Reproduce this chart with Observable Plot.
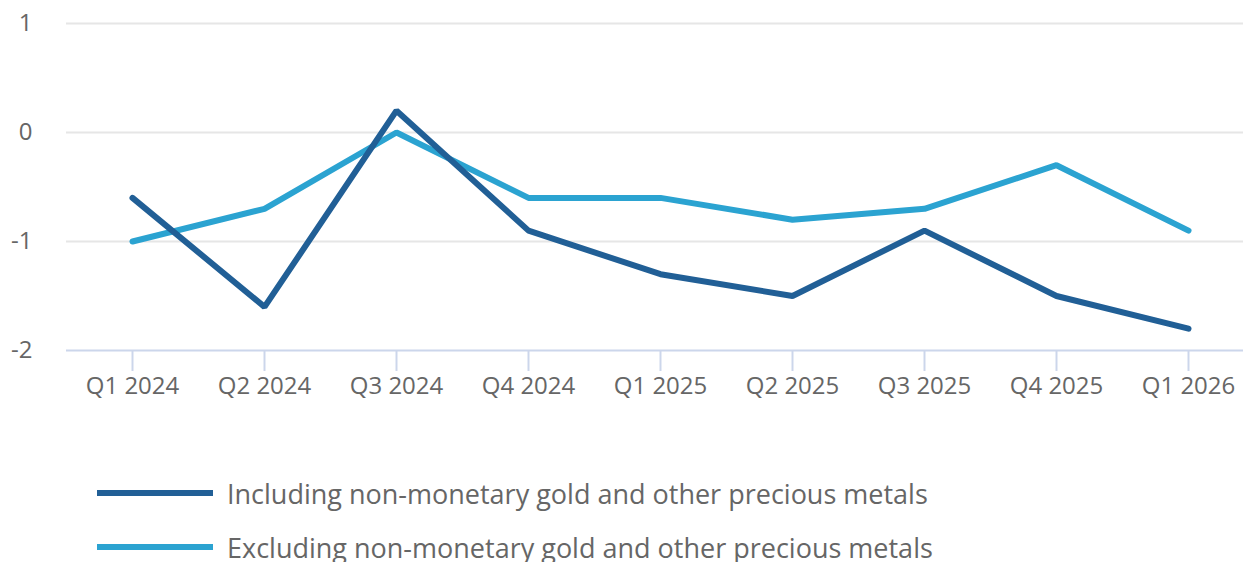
<!DOCTYPE html>
<html><head><meta charset="utf-8">
<script src="https://cdn.jsdelivr.net/npm/d3@7"></script>
<script src="https://cdn.jsdelivr.net/npm/@observablehq/plot@0.6"></script>
<style>
body{margin:0;background:#fff;font-family:"Open Sans",sans-serif;overflow:hidden;}
#legend{margin-top:36px;}
.row{display:flex;align-items:center;height:54px;padding-left:97px;color:#666;font-size:27px;}
.sw{width:116px;height:6px;margin-right:14px;}
</style></head><body>
<div id="chart"></div>
<div id="legend"></div>
<script>
const quarters = ["Q1 2024","Q2 2024","Q3 2024","Q4 2024","Q1 2025","Q2 2025","Q3 2025","Q4 2025","Q1 2026"];
const including = [-0.6,-1.6,0.2,-0.9,-1.3,-1.5,-0.9,-1.5,-1.8];
const excluding = [-1.0,-0.7,0.0,-0.6,-0.6,-0.8,-0.7,-0.3,-0.9];
const seriesNames = ["Including non-monetary gold and other precious metals","Excluding non-monetary gold and other precious metals"];
const colors = ["#215f96","#2ba3d1"];
const yTicks = [-2,-1,0,1];

const data = [];
quarters.forEach((q,i)=>{
  data.push({q, v: including[i], s: seriesNames[0]});
  data.push({q, v: excluding[i], s: seriesNames[1]});
});

const plot = Plot.plot({
  width: 1243, height: 430,
  marginLeft: 66, marginRight: 0, marginTop: 23, marginBottom: 80,
  style: {fontFamily: '"Open Sans", sans-serif', fontSize: "24px", color: "#666"},
  x: {type: "point", domain: quarters, range: [131, 1188], padding: 0, label: null},
  y: {domain: [-2, 1], label: null},
  color: {domain: seriesNames, range: colors},
  marks: [
    Plot.ruleY(yTicks.filter(t=>t>-2), {stroke: "#e6e6e6", strokeWidth: 2}),
    Plot.ruleY([-2], {stroke: "#ccd6eb", strokeWidth: 2}),
    Plot.axisY({ticks: yTicks, tickSize: 0, tickPadding: 34, fill: "#666", fontSize: 24, tickFormat: d => String(d)}),
    Plot.axisX({tickSize: 21, tickPadding: 5, stroke: "#ccd6eb", strokeWidth: 2, fill: "#666", fontSize: 24, strokeOpacity: 1}),
    Plot.line(data.filter(d=>d.s===seriesNames[1]), {x: "q", y: "v", stroke: "s", strokeWidth: 6, strokeLinejoin: "miter"}),
    Plot.line(data.filter(d=>d.s===seriesNames[0]), {x: "q", y: "v", stroke: "s", strokeWidth: 6, strokeLinejoin: "miter"})
  ]
});
document.getElementById("chart").appendChild(plot);

const leg = document.getElementById("legend");
seriesNames.forEach((n,i)=>{
  const r = document.createElement("div"); r.className="row";
  const sw = document.createElement("div"); sw.className="sw"; sw.style.background=colors[i];
  const t = document.createElement("span"); t.textContent = n;
  r.appendChild(sw); r.appendChild(t); leg.appendChild(r);
});
</script></body></html>
